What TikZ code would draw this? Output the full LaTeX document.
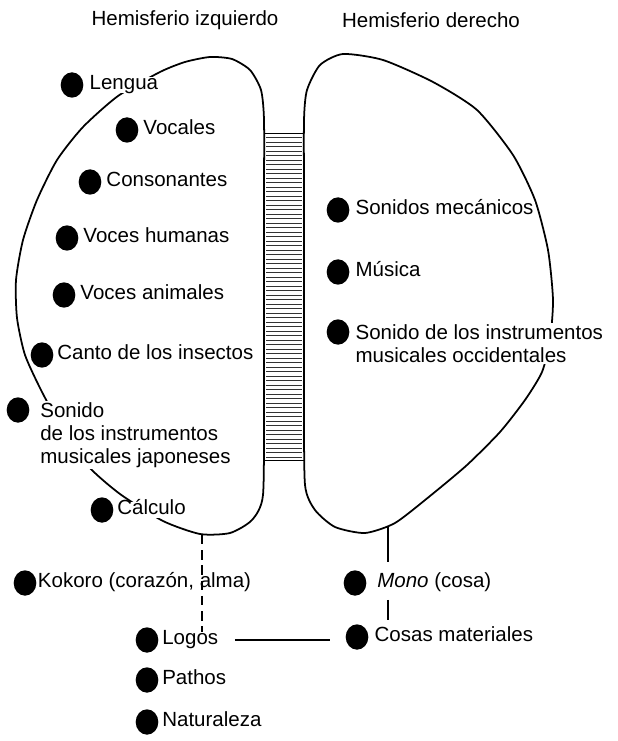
\documentclass[tikz,border=0pt]{standalone}
\usepackage{fontspec}
\setmainfont{Liberation Sans}
\usetikzlibrary{positioning,shapes}

\begin{document}
\begin{tikzpicture}[x=0.03cm,y=-0.03cm,font=\fontsize{17.5}{19.5}\selectfont]
    \tikzstyle{blob} = [fill=black,ellipse,inner sep=0pt,minimum width=0.68cm,minimum height=0.76cm]
    \tikzstyle{itemtext} = [fill=white,inner sep=1pt,text height=0.92em,text depth=0.2em]
    \tikzstyle{multitext} = [fill=white,inner sep=1pt,align=left,anchor=north west]
    \tikzstyle{outline} = [line width=1.5pt]
    \tikzstyle{link} = [line width=1.5pt]
      \useasboundingbox (0,0) rectangle (617,741);
      \node (leftTitle) at (185,20) {Hemisferio izquierdo};
      \node (rightTitle) at (431,20) {Hemisferio derecho};
      \draw[outline] plot[smooth cycle,tension=0.4] coordinates {(264,200) (264,120) (261,90) (250,70) (232,59) (210,57) (185,62) (160,72) (118,96) (83,127) (57,160) (37,200) (23,240) (16,280) (17,318) (25,355) (42,392) (62,428) (88,466) (120,494) (163,521) (200,534) (230,533) (252,520) (263,495) (264,400) (264,300)};
      \draw[outline] plot[smooth cycle,tension=0.4] coordinates {(304,200) (304,120) (307,90) (320,65) (343,54) (383,60) (433,82) (477,110) (513,155) (535,200) (548,250) (553,300) (550,340) (542,372) (525,400) (500,432) (467,465) (430,496) (395,523) (365,533) (335,527) (315,510) (305,485) (304,400) (304,300)};
      \draw[line width=0.8pt] (264,133) -- (304,133) (264,460) -- (304,460);
      \foreach \y in {137.5,142,...,457} \draw[line width=0.5pt,black!80] (266,\y) -- (302,\y);
      \coordinate (leftBase) at (202,535);
      \coordinate (rightBase) at (388,527);
      \node[blob] (lengua) at (72,85) {};
      \node[itemtext,right=4pt of lengua] (lenguaText) {Lengua};
      \node[blob] (vocales) at (127,130) {};
      \node[itemtext,right=3pt of vocales] (vocalesText) {Vocales};
      \node[blob] (consonantes) at (90,182) {};
      \node[itemtext,right=3pt of consonantes] (consonantesText) {Consonantes};
      \node[blob] (vocesHumanas) at (67,238) {};
      \node[itemtext,right=3pt of vocesHumanas] (vocesHumanasText) {Voces humanas};
      \node[blob] (vocesAnimales) at (64,295) {};
      \node[itemtext,right=3pt of vocesAnimales] (vocesAnimalesText) {Voces animales};
      \node[blob] (canto) at (42,355) {};
      \node[itemtext,right=2pt of canto] (cantoText) {Canto de los insectos};
      \node[blob] (sonidoJ) at (18,410) {};
      \node[multitext] (sonidoJText) at ([xshift=8pt,yshift=7.5pt]sonidoJ.east) {Sonido\\de los instrumentos\\musicales japoneses};
      \node[blob] (calculo) at (102,510) {};
      \node[itemtext,right=2pt of calculo] (calculoText) {Cálculo};
      \node[blob] (mecanicos) at (338,210) {};
      \node[itemtext,right=4pt of mecanicos] (mecanicosText) {Sonidos mecánicos};
      \node[blob] (musica) at (338,272) {};
      \node[itemtext,right=4pt of musica] (musicaText) {Música};
      \node[blob] (sonidoO) at (338,332) {};
      \node[multitext] (sonidoOText) at ([xshift=4pt,yshift=7.5pt]sonidoO.east) {Sonido de los instrumentos\\musicales occidentales};
      \node[blob] (kokoro) at (25,583) {};
      \node[itemtext,right=0pt of kokoro] (kokoroText) {Kokoro (corazón, alma)};
      \node[blob] (mono) at (355,583) {};
      \node[itemtext,right=8pt of mono] (monoText) {\textit{Mono} (cosa)};
      \node[blob] (logos) at (147,640) {};
      \node[itemtext,right=2pt of logos] (logosText) {Logos};
      \node[blob] (cosas) at (357,637) {};
      \node[itemtext,right=4pt of cosas] (cosasText) {Cosas materiales};
      \node[blob] (pathos) at (147,680) {};
      \node[itemtext,right=2pt of pathos] (pathosText) {Pathos};
      \node[blob] (naturaleza) at (147,722) {};
      \node[itemtext,right=2pt of naturaleza] (naturalezaText) {Naturaleza};
      \draw[link,dash pattern=on 8pt off 5pt] (leftBase) -- (leftBase |- logosText.north);
      \draw[link,shorten >=11pt] (rightBase) -- (rightBase |- monoText.north);
      \draw[link,shorten <=7.5pt,shorten >=7.5pt] (rightBase |- monoText.south) -- (rightBase |- cosasText.north);
      \draw[line width=1pt,shorten <=13pt,shorten >=13pt] (logosText.east) -- (logosText.east -| cosas.west);
  \end{tikzpicture}
\end{document}
